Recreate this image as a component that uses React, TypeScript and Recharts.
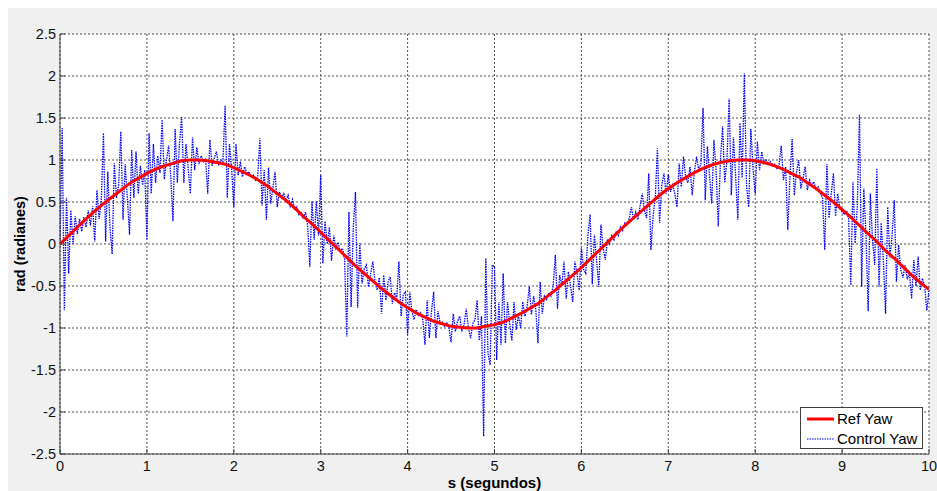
import React from 'react';
import { LineChart, Line, XAxis, YAxis, CartesianGrid, Legend, Label } from 'recharts';

// Reference yaw (rad), sampled every 0.1 s from t = 0 to 10
const refStep = 0.1;
const refYaw = [
  0.00, 0.10, 0.20, 0.30, 0.39, 0.48, 0.56, 0.64, 0.72, 0.78,
  0.84, 0.89, 0.93, 0.96, 0.99, 1.00, 1.00, 0.99, 0.97, 0.95,
  0.91, 0.86, 0.81, 0.75, 0.68, 0.60, 0.52, 0.43, 0.33, 0.24,
  0.14, 0.04, -0.06, -0.16, -0.26, -0.35, -0.44, -0.53, -0.61, -0.69,
  -0.76, -0.82, -0.87, -0.92, -0.95, -0.98, -0.99, -1.00, -1.00, -0.98,
  -0.96, -0.93, -0.88, -0.83, -0.77, -0.71, -0.63, -0.55, -0.46, -0.37,
  -0.28, -0.18, -0.08, 0.02, 0.12, 0.22, 0.31, 0.40, 0.49, 0.58,
  0.66, 0.73, 0.79, 0.85, 0.90, 0.94, 0.97, 0.99, 1.00, 1.00,
  0.99, 0.97, 0.94, 0.90, 0.85, 0.80, 0.73, 0.66, 0.58, 0.50,
  0.41, 0.32, 0.22, 0.12, 0.03, -0.08, -0.17, -0.27, -0.37, -0.46,
  -0.54,
];

// Controlled yaw (rad), sampled every 0.025 s from t = 0 to 10
const controlStep = 0.025;
const controlYaw = [
  0.00, 1.38, -0.79, 0.55, -0.35, 0.40, 0.00, 0.33, 0.12, 0.30,
  0.15, 0.32, 0.20, 0.40, 0.22, 0.45, 0.03, 0.64, 0.30, 0.52,
  1.32, 0.03, 0.86, 0.20, -0.12, 0.96, 0.55, 0.70, 1.34, 0.29,
  0.95, 0.55, 0.11, 1.12, 0.55, 1.10, 0.60, 0.93, 0.70, 0.88,
  0.05, 1.32, 0.60, 1.19, 0.73, 1.05, 0.85, 1.48, 0.77, 1.00,
  1.17, 0.80, 0.27, 1.37, 0.73, 1.20, 1.51, 0.73, 1.19, 0.90,
  0.60, 1.27, 0.88, 1.15, 0.95, 1.05, 0.98, 1.02, 0.60, 1.24,
  0.93, 1.02, 1.10, 0.95, 1.00, 0.98, 1.65, 0.55, 1.19, 0.90,
  0.44, 1.19, 0.82, 0.98, 0.80, 0.92, 0.84, 0.86, 0.80, 0.82,
  0.76, 0.80, 1.26, 0.46, 0.88, 0.29, 0.91, 0.48, 0.67, 0.86,
  0.44, 0.62, 0.55, 0.60, 0.52, 0.58, 0.45, 0.53, 0.40, 0.44,
  0.35, 0.38, 0.30, 0.38, 0.22, -0.27, 0.51, 0.05, 0.51, 0.10,
  0.82, -0.23, 0.27, 0.00, 0.20, -0.20, 0.10, -0.05, 0.02, -0.10,
  -0.05, -0.18, -1.10, 0.38, -0.75, 0.20, 0.62, -0.76, 0.01, -0.47,
  -0.30, -0.25, -0.51, -0.35, -0.21, -0.45, -0.55, -0.40, -0.83, -0.37,
  -0.67, -0.45, -0.39, -0.71, -0.58, -0.65, -0.21, -0.86, -0.60, -0.57,
  -1.08, -0.57, -0.80, -0.90, -0.78, -0.85, -0.82, -0.90, -1.20, -0.67,
  -1.12, -0.80, -0.57, -1.12, -0.80, -0.95, -0.93, -0.98, -0.94, -0.99,
  -1.17, -0.83, -1.04, -0.92, -0.86, -1.04, -0.96, -0.77, -1.00, -1.12,
  -0.95, -0.90, -0.67, -1.15, -0.86, -2.29, -0.17, -1.30, -1.44, -0.25,
  -0.27, -1.38, -0.69, -1.20, -0.35, -1.18, -0.69, -0.95, -1.15, -0.69,
  -1.02, -0.85, -1.00, -0.69, -0.86, -0.75, -0.51, -0.84, -0.62, -0.78,
  -1.18, -0.45, -0.83, -0.62, -0.66, -0.58, -0.62, -0.50, -0.13, -0.77,
  -0.37, -0.50, -0.21, -0.65, -0.33, -0.50, -0.69, -0.21, -0.35, -0.55,
  -0.05, -0.30, -0.35, 0.10, 0.35, -0.48, 0.11, -0.20, -0.51, 0.23,
  -0.05, -0.19, 0.06, 0.00, 0.10, 0.05, 0.14, 0.10, 0.20, 0.16,
  0.25, 0.22, 0.30, 0.44, 0.29, 0.38, 0.29, 0.45, 0.60, 0.40,
  0.31, 0.84, -0.07, 0.33, 0.55, 1.14, 0.25, 0.70, 0.84, 0.60,
  0.83, 0.62, 0.70, 0.60, 0.44, 0.96, 0.68, 1.04, 0.80, 0.73,
  0.92, 0.58, 0.85, 1.04, 0.88, 0.95, 1.62, 0.52, 1.16, 0.81,
  0.48, 1.24, 0.88, 0.21, 1.00, 1.40, 0.73, 1.00, 1.73, 0.58,
  1.27, 0.80, 0.29, 1.44, 0.79, 2.03, 0.70, 0.44, 1.37, 0.90,
  0.60, 1.22, 0.88, 1.10, 0.96, 1.00, 0.95, 0.98, 0.93, 0.95,
  0.90, 0.95, 1.17, 0.76, 0.92, 0.17, 0.80, 1.25, 0.58, 0.85,
  1.00, 0.66, 0.78, 0.92, 0.64, 0.76, 0.70, 0.74, 0.65, 0.68,
  0.60, 0.55, -0.07, 0.95, 0.31, 0.60, 0.84, 0.33, 0.60, 0.42,
  0.38, 0.35, 0.40, 0.30, -0.49, 0.74, 0.01, 0.45, 1.54, -0.51,
  0.66, 0.10, -0.80, 0.60, 0.05, -0.25, 0.90, -0.51, 0.25, -0.20,
  -0.83, 0.44, -0.17, 0.10, 0.52, -0.45, -0.01, -0.30, -0.40, -0.25,
  -0.42, -0.35, -0.65, -0.19, -0.50, -0.15, -0.55, -0.41, -0.50, -0.79,
  -0.55,
];

const xTicks = [0, 1, 2, 3, 4, 5, 6, 7, 8, 9, 10];
const yTicks = [-2.5, -2, -1.5, -1, -0.5, 0, 0.5, 1, 1.5, 2, 2.5];

const titleText = 'Control PD en Yaw';
const xLabelText = 's (segundos)';
const yLabelText = 'rad (radianes)';
const refName = 'Ref Yaw';
const controlName = 'Control Yaw';

const refData = refYaw.map((v, i) => ({ t: Math.round(i * refStep * 1000) / 1000, v }));
const controlData = controlYaw.map((v, i) => ({ t: Math.round(i * controlStep * 1000) / 1000, v }));

const FONT = '"Liberation Sans", Arial, Helvetica, sans-serif';
const AXIS_COLOR = '#404040';

const LegendBox = () => (
  <div
    style={{
      position: 'relative',
      width: 123,
      height: 42,
      boxSizing: 'border-box',
      border: `1px solid ${AXIS_COLOR}`,
      background: '#ffffff',
      fontFamily: FONT,
      fontSize: 15,
      color: '#000',
    }}
  >
    {[
      { name: refName, color: '#ff0000', width: 3, dash: undefined as string | undefined, y: 10.5 },
      { name: controlName, color: '#0000ff', width: 1.2, dash: '1.5 1', y: 30.5 },
    ].map((r) => (
      <div key={r.name} style={{ position: 'absolute', left: 0, top: r.y - 10, height: 20, width: 121 }}>
        <svg width={30} height={20} style={{ position: 'absolute', left: 5, top: 0 }}>
          <line x1={1} x2={28} y1={10} y2={10} stroke={r.color} strokeWidth={r.width} strokeDasharray={r.dash} />
        </svg>
        <span style={{ position: 'absolute', left: 36, top: 1, lineHeight: '18px', whiteSpace: 'nowrap' }}>{r.name}</span>
      </div>
    ))}
  </div>
);

export default function App() {
  return (
    <div style={{ position: 'absolute', left: 0, top: 0, width: 937, height: 491, background: '#ffffff', overflow: 'hidden' }}>
      <div style={{ position: 'absolute', left: 8, top: 8, width: 929, height: 483, background: '#f0f0f0' }} />
      <div style={{ position: 'absolute', left: 0, top: 0 }}>
        <LineChart
          width={937}
          height={491}
          margin={{ top: 34, right: 8, bottom: 0, left: 8 }}
          style={{ fontFamily: FONT }}
        >
          <CartesianGrid
            fill="#ffffff"
            stroke="#505050"
            strokeDasharray="2 2"
            xAxisId="bottom"
            yAxisId="left"
          />
          <XAxis
            xAxisId="bottom"
            type="number"
            dataKey="t"
            domain={[0, 10]}
            ticks={xTicks}
            interval={0}
            allowDataOverflow
            height={37}
            axisLine={{ stroke: AXIS_COLOR }}
            tickLine={{ stroke: AXIS_COLOR }}
            tickSize={-5}
            tickMargin={12}
            tick={{ fill: '#111', fontSize: 14.5, fontFamily: FONT }}
          >
            <Label
              content={({ viewBox }: any) => (
                <text
                  x={viewBox.x + viewBox.width / 2}
                  y={viewBox.y + 28.5}
                  textAnchor="middle"
                  dominantBaseline="central"
                  fontFamily={FONT}
                  fontWeight="bold"
                  fontSize={15}
                  fill="#000"
                >
                  {xLabelText}
                </text>
              )}
            />
          </XAxis>
          <XAxis
            xAxisId="top"
            orientation="top"
            type="number"
            domain={[0, 10]}
            ticks={xTicks}
            interval={0}
            allowDataOverflow
            height={0}
            axisLine={{ stroke: AXIS_COLOR }}
            tickLine={{ stroke: AXIS_COLOR }}
            tickSize={-5}
            tick={false}
          >
            <Label
              content={({ viewBox }: any) => (
                <text
                  x={viewBox.x + viewBox.width / 2}
                  y={16.5}
                  textAnchor="middle"
                  dominantBaseline="central"
                  fontFamily={FONT}
                  fontWeight="bold"
                  fontSize={15}
                  fill="#000"
                >
                  {titleText}
                </text>
              )}
            />
          </XAxis>
          <YAxis
            yAxisId="left"
            type="number"
            domain={[-2.5, 2.5]}
            ticks={yTicks}
            interval={0}
            allowDataOverflow
            width={52}
            axisLine={{ stroke: AXIS_COLOR }}
            tickLine={{ stroke: AXIS_COLOR }}
            tickSize={-5}
            tickMargin={9}
            tick={{ fill: '#111', fontSize: 14.5, fontFamily: FONT }}
          >
            <Label
              content={({ viewBox }: any) => {
                const cx = 20;
                const cy = viewBox.y + viewBox.height / 2;
                return (
                  <text
                    x={cx}
                    y={cy}
                    transform={`rotate(-90 ${cx} ${cy})`}
                    textAnchor="middle"
                    dominantBaseline="central"
                    fontFamily={FONT}
                    fontWeight="bold"
                    fontSize={14.5}
                    fill="#000"
                  >
                    {yLabelText}
                  </text>
                );
              }}
            />
          </YAxis>
          <YAxis
            yAxisId="right"
            orientation="right"
            type="number"
            domain={[-2.5, 2.5]}
            ticks={yTicks}
            interval={0}
            allowDataOverflow
            width={0}
            axisLine={{ stroke: AXIS_COLOR }}
            tickLine={{ stroke: AXIS_COLOR }}
            tickSize={-5}
            tick={false}
          />
          <Line
            xAxisId="bottom"
            yAxisId="left"
            data={controlData}
            dataKey="v"
            name={controlName}
            type="linear"
            stroke="#0000ff"
            strokeWidth={1.3}
            strokeDasharray="1.5 1"
            dot={false}
            activeDot={false}
            isAnimationActive={false}
          />
          <Line
            xAxisId="bottom"
            yAxisId="left"
            data={refData}
            dataKey="v"
            name={refName}
            type="linear"
            stroke="#ff0000"
            strokeWidth={3}
            dot={false}
            activeDot={false}
            isAnimationActive={false}
          />
          <Legend
            layout="vertical"
            align="center"
            verticalAlign="middle"
            content={() => <LegendBox />}
            wrapperStyle={{ left: 800, top: 407, width: 123, height: 42 }}
          />
        </LineChart>
      </div>
    </div>
  );
}
